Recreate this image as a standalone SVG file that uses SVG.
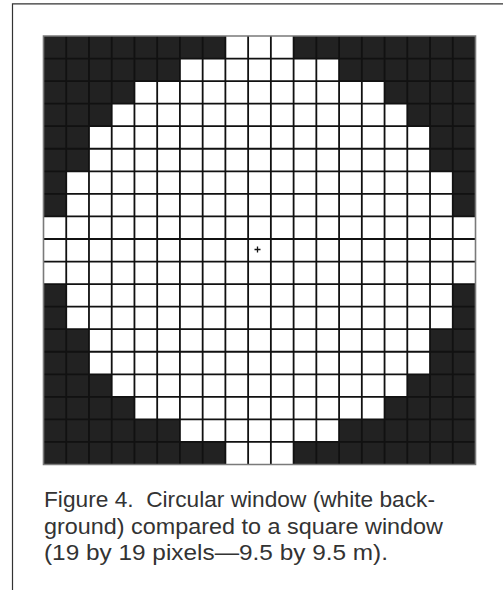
<svg xmlns="http://www.w3.org/2000/svg" width="503" height="590" viewBox="0 0 503 590">
  <style>
    .blk { fill: #222222; }
    .grid { fill: none; stroke: #111111; stroke-width: 1.8; vector-effect: non-scaling-stroke; }
    .border { fill: none; stroke: #7a7a7a; stroke-width: 1.6; vector-effect: non-scaling-stroke; }
    .frame { fill: none; stroke: #333333; stroke-width: 1.2; }
    .cap { font-family: "Liberation Sans", Arial, sans-serif; font-size: 22px; fill: #333333; }
  </style>
  <rect x="0" y="0" width="503" height="590" fill="#ffffff"/>
  <path class="frame" d="M12.5,590 V3.8 H503"/>
  <g id="grid-window" transform="translate(43.5,36) scale(22.737,22.553)">
    <rect width="19" height="19" fill="#ffffff"/>
    <g id="black-cells">
      <rect class="blk" x="0" y="0" width="8" height="1"/><rect class="blk" x="11" y="0" width="8" height="1"/>
      <rect class="blk" x="0" y="1" width="6" height="1"/><rect class="blk" x="13" y="1" width="6" height="1"/>
      <rect class="blk" x="0" y="2" width="4" height="1"/><rect class="blk" x="15" y="2" width="4" height="1"/>
      <rect class="blk" x="0" y="3" width="3" height="1"/><rect class="blk" x="16" y="3" width="3" height="1"/>
      <rect class="blk" x="0" y="4" width="2" height="2"/><rect class="blk" x="17" y="4" width="2" height="2"/>
      <rect class="blk" x="0" y="6" width="1" height="2"/><rect class="blk" x="18" y="6" width="1" height="2"/>
      <rect class="blk" x="0" y="11" width="1" height="2"/><rect class="blk" x="18" y="11" width="1" height="2"/>
      <rect class="blk" x="0" y="13" width="2" height="2"/><rect class="blk" x="17" y="13" width="2" height="2"/>
      <rect class="blk" x="0" y="15" width="3" height="1"/><rect class="blk" x="16" y="15" width="3" height="1"/>
      <rect class="blk" x="0" y="16" width="4" height="1"/><rect class="blk" x="15" y="16" width="4" height="1"/>
      <rect class="blk" x="0" y="17" width="6" height="1"/><rect class="blk" x="13" y="17" width="6" height="1"/>
      <rect class="blk" x="0" y="18" width="8" height="1"/><rect class="blk" x="11" y="18" width="8" height="1"/>
    </g>
    <path class="grid" d="M1,0V19M2,0V19M3,0V19M4,0V19M5,0V19M6,0V19M7,0V19M8,0V19M9,0V19M10,0V19M11,0V19M12,0V19M13,0V19M14,0V19M15,0V19M16,0V19M17,0V19M18,0V19M0,1H19M0,2H19M0,3H19M0,4H19M0,5H19M0,6H19M0,7H19M0,8H19M0,9H19M0,10H19M0,11H19M0,12H19M0,13H19M0,14H19M0,15H19M0,16H19M0,17H19M0,18H19"/>
    <rect class="border" x="0" y="0" width="19" height="19"/>
  </g>
  <g id="center-mark">
    <path d="M254.5,249.5H260.5M257.5,246.5V252.5" stroke="#111111" stroke-width="1.3" fill="none"/>
  </g>
  <g id="caption">
    <text class="cap" x="44" y="507" textLength="391" lengthAdjust="spacingAndGlyphs" xml:space="preserve">Figure 4.  Circular window (white back-</text>
    <text class="cap" x="44" y="533.5" textLength="399" lengthAdjust="spacingAndGlyphs">ground) compared to a square window</text>
    <text class="cap" x="44" y="560" textLength="344" lengthAdjust="spacingAndGlyphs">(19 by 19 pixels—9.5 by 9.5 m).</text>
  </g>
</svg>
